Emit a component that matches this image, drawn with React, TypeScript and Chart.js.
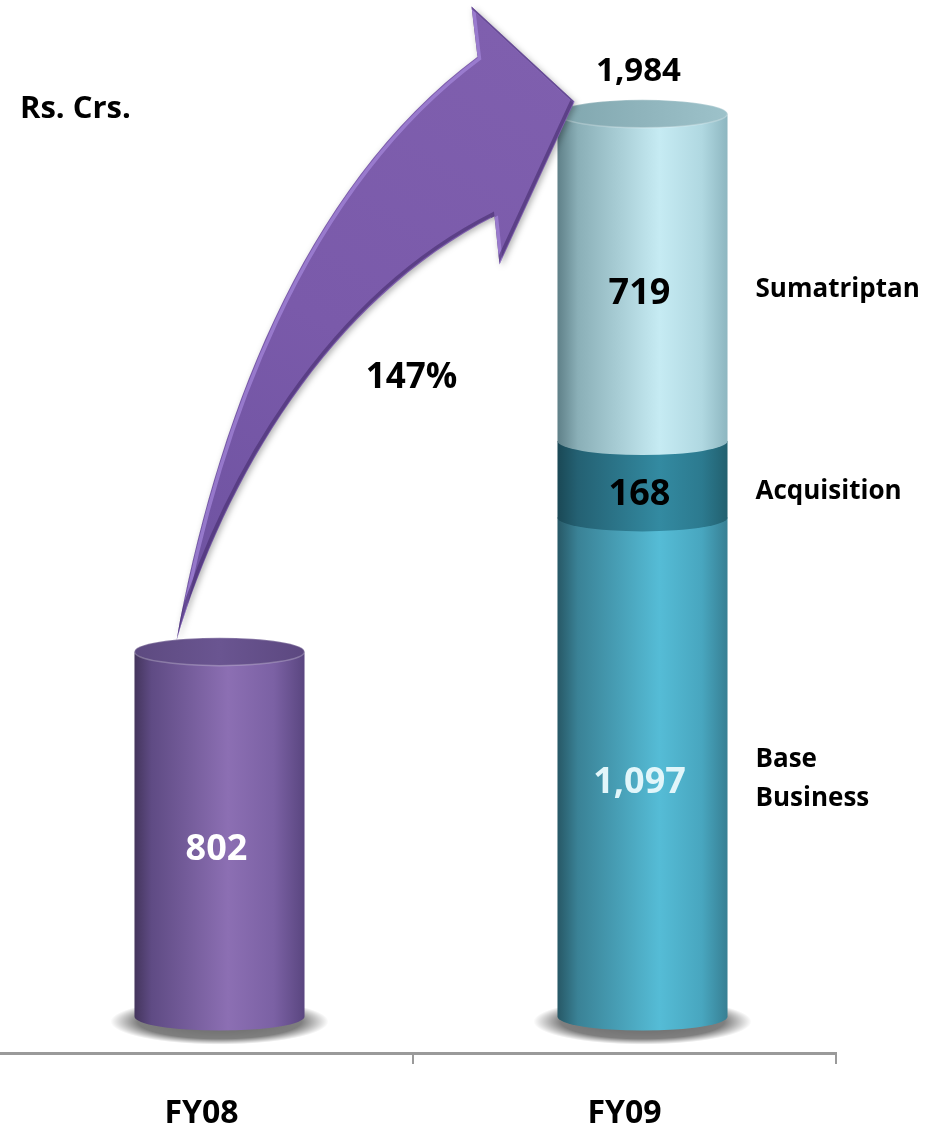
import React, { useEffect, useRef } from 'react';
import { Chart, registerables } from 'chart.js';

Chart.register(...registerables);

// ---------- data ----------
const categories = ['FY08', 'FY09'];
const fy08Sales = [802, null];
const baseBusiness = [null, 1097];
const acquisition = [null, 168];
const sumatriptan = [null, 719];
const seriesNames = ['FY08', 'Base Business', 'Acquisition', 'Sumatriptan'];
const unitLabel = 'Rs. Crs.';
const yMin = -80;
const yMax = 2188;

const FONT = "'Open Sans', 'DejaVu Sans', sans-serif";

type Stop = [number, string];
interface Look {
  side: Stop[];
  cap: Stop[];
  text: string;
}

const looks: Look[] = [
  {
    side: [[0, '#44355d'], [0.1, '#5f4b84'], [0.55, '#8c6fb3'], [0.82, '#7b61a4'], [1, '#5a4680']],
    cap: [[0, '#5d4a80'], [0.5, '#6a5591'], [1, '#5c4880']],
    text: '#ffffff',
  },
  {
    side: [[0, '#275866'], [0.12, '#3a8296'], [0.6, '#55bcd6'], [0.85, '#48a6bf'], [1, '#377f93']],
    cap: [[0, '#3d8ea3'], [1, '#4aa7be']],
    text: '#e2f6fa',
  },
  {
    side: [[0, '#1a4855'], [0.12, '#246173'], [0.6, '#338aa1'], [0.85, '#2c7a8f'], [1, '#22606f']],
    cap: [[0, '#246173'], [1, '#2e7f94']],
    text: '#000000',
  },
  {
    side: [[0, '#5f8088'], [0.12, '#8aafb7'], [0.6, '#c6ebf3'], [0.85, '#b0d8e1'], [1, '#8db6c0']],
    cap: [[0, '#80a6ae'], [0.5, '#8fb4bc'], [1, '#9dc2ca']],
    text: '#000000',
  },
];

const SHIFT_X = 18; // 3D perspective shift of the cylinders
const RY = 14;

function hGrad(ctx: CanvasRenderingContext2D, x0: number, x1: number, stops: Stop[]) {
  const g = ctx.createLinearGradient(x0, 0, x1, 0);
  stops.forEach(([o, c]) => g.addColorStop(o, c));
  return g;
}

function segmentPath(ctx: CanvasRenderingContext2D, cx: number, rx: number, yTop: number, yBot: number) {
  ctx.beginPath();
  ctx.moveTo(cx - rx, yTop);
  ctx.lineTo(cx - rx, yBot);
  ctx.ellipse(cx, yBot, rx, RY, 0, Math.PI, 0, true);
  ctx.lineTo(cx + rx, yTop);
  ctx.closePath();
}

function drawShadow(ctx: CanvasRenderingContext2D, cx: number, cy: number, rx: number) {
  ctx.save();
  ctx.translate(cx, cy + 5);
  ctx.scale(1, (RY + 9) / (rx + 24));
  const r = rx + 24;
  const g = ctx.createRadialGradient(0, 0, 0, 0, 0, r);
  g.addColorStop(0, 'rgba(0,0,0,0.6)');
  g.addColorStop(0.75, 'rgba(0,0,0,0.5)');
  g.addColorStop(1, 'rgba(0,0,0,0)');
  ctx.fillStyle = g;
  ctx.beginPath();
  ctx.arc(0, 0, r, 0, Math.PI * 2);
  ctx.fill();
  ctx.restore();
}

// arrow template in reference geometry: tail anchored to FY08 top, tip to FY09 top
const arrowTail = { x: 177, y: 640 };
const arrowTip = { x: 575, y: 103 };
const growthLabelAt = { x: 412, y: 378 };

const totalFY09 = (baseBusiness[1] as number) + (acquisition[1] as number) + (sumatriptan[1] as number);

const cylinderPlugin = {
  id: 'cylinders',
  afterDatasetsDraw(chart: any) {
    const ctx: CanvasRenderingContext2D = chart.ctx;
    const nCats = categories.length;
    const cols: { cx: number; rx: number; top: number; base: number }[] = [];
    for (let c = 0; c < nCats; c++) {
      const segs: { el: any; ds: number }[] = [];
      chart.data.datasets.forEach((ds: any, di: number) => {
        const v = ds.data[c];
        if (v === null || v === undefined) return;
        const el = chart.getDatasetMeta(di).data[c];
        segs.push({ el, ds: di });
      });
      if (!segs.length) continue;
      const cx = segs[0].el.x + SHIFT_X;
      const rx = segs[0].el.width / 2;
      const base = Math.max(...segs.map((s) => s.el.base));
      const top = Math.min(...segs.map((s) => s.el.y));
      cols.push({ cx, rx, top, base });
      drawShadow(ctx, cx, base, rx);
      segs.sort((a, b) => b.el.base - a.el.base);
      segs.forEach((s) => {
        const look = looks[s.ds];
        ctx.save();
        segmentPath(ctx, cx, rx, s.el.y, s.el.base);
        ctx.fillStyle = hGrad(ctx, cx - rx, cx + rx, look.side);
        ctx.fill();
        ctx.restore();
      });
      const topSeg = segs[segs.length - 1];
      const tl = looks[topSeg.ds];
      ctx.save();
      ctx.beginPath();
      ctx.ellipse(cx, top, rx, RY, 0, 0, Math.PI * 2);
      ctx.fillStyle = hGrad(ctx, cx - rx, cx + rx, tl.cap);
      ctx.fill();
      ctx.strokeStyle = 'rgba(255,255,255,0.25)';
      ctx.lineWidth = 1.5;
      ctx.stroke();
      ctx.restore();
    }

    // growth arrow
    if (cols.length === 2) {
      const tail = { x: cols[0].cx - 43, y: cols[0].top - 11 };
      const tip = { x: cols[1].cx - 68, y: cols[1].top - 12 };
      const sx = (tip.x - tail.x) / (arrowTip.x - arrowTail.x);
      const sy = (tip.y - tail.y) / (arrowTip.y - arrowTail.y);
      const P = (x: number, y: number): [number, number] => [tail.x + (x - arrowTail.x) * sx, tail.y + (y - arrowTail.y) * sy];
      const path = () => {
        ctx.beginPath();
        ctx.moveTo(...P(177, 640));
        ctx.bezierCurveTo(...P(215, 430), ...P(300, 190), ...P(478, 58));
        ctx.lineTo(...P(472, 8));
        ctx.lineTo(...P(575, 103));
        ctx.lineTo(...P(500, 265));
        ctx.lineTo(...P(495, 217));
        ctx.bezierCurveTo(...P(330, 300), ...P(225, 480), ...P(177, 640));
        ctx.closePath();
      };
      ctx.save();
      path();
      ctx.shadowColor = 'rgba(0,0,0,0.3)';
      ctx.shadowBlur = 6;
      ctx.shadowOffsetX = 2;
      ctx.shadowOffsetY = 2;
      const ag = ctx.createLinearGradient(...P(200, 640), ...P(520, 40));
      ag.addColorStop(0, '#6d52a0');
      ag.addColorStop(0.5, '#7a5aaa');
      ag.addColorStop(1, '#7f5fae');
      ctx.fillStyle = ag;
      ctx.fill();
      ctx.restore();
      ctx.save();
      path();
      ctx.clip();
      ctx.translate(2, 2);
      path();
      ctx.strokeStyle = 'rgba(165,135,220,0.7)';
      ctx.lineWidth = 3.5;
      ctx.stroke();
      ctx.translate(-4, -4);
      path();
      ctx.strokeStyle = 'rgba(70,45,110,0.6)';
      ctx.lineWidth = 3.5;
      ctx.stroke();
      ctx.restore();

      const growth = Math.round((totalFY09 / (fy08Sales[0] as number) - 1) * 100);
      const [gx, gy] = P(growthLabelAt.x, growthLabelAt.y);
      ctx.save();
      ctx.font = `bold 35px ${FONT}`;
      ctx.fillStyle = '#000';
      ctx.textAlign = 'center';
      ctx.textBaseline = 'middle';
      ctx.fillText(`${growth}%`, gx, gy);
      ctx.restore();
    }

    // value labels and series names
    ctx.save();
    ctx.textBaseline = 'middle';
    chart.data.datasets.forEach((ds: any, di: number) => {
      ds.data.forEach((v: number | null, c: number) => {
        if (v === null || v === undefined) return;
        const el = chart.getDatasetMeta(di).data[c];
        const cx = el.x + SHIFT_X;
        const rx = el.width / 2;
        const cy = (el.y + el.base) / 2 + 16;
        ctx.font = `bold 36px ${FONT}`;
        ctx.textAlign = 'center';
        ctx.fillStyle = looks[di].text;
        ctx.fillText(v.toLocaleString('en-US'), cx - 3, cy);
        if (c === 1) {
          ctx.font = `bold 26px ${FONT}`;
          ctx.textAlign = 'left';
          ctx.fillStyle = '#000';
          const lx = cx + rx + 30;
          const words = String(ds.label).split(' ');
          const lines: string[] = [];
          let cur = '';
          words.forEach((w) => {
            const t = cur ? cur + ' ' + w : w;
            if (ctx.measureText(t).width > chart.width - lx - 2 && cur) {
              lines.push(cur);
              cur = w;
            } else cur = t;
          });
          lines.push(cur);
          const lh = 39;
          const y0 = cy - 4 - ((lines.length - 1) * lh) / 2;
          lines.forEach((ln, i) => ctx.fillText(ln, lx - 2, y0 + i * lh));
        }
      });
    });
    if (cols.length === 2) {
      ctx.font = `bold 33px ${FONT}`;
      ctx.textAlign = 'center';
      ctx.fillStyle = '#000';
      ctx.fillText(totalFY09.toLocaleString('en-US'), cols[1].cx - 4, cols[1].top - 42);
    }
    ctx.font = `bold 31px ${FONT}`;
    ctx.textAlign = 'left';
    ctx.fillStyle = '#000';
    ctx.fillText(unitLabel, chart.chartArea.left + 30, 109);
    ctx.restore();
  },
};

export default function App() {
  const ref = useRef<HTMLCanvasElement | null>(null);
  useEffect(() => {
    document.body.style.margin = '0';
    if (!ref.current) return;
    const chart = new Chart(ref.current, {
      type: 'bar',
      data: {
        labels: categories,
        datasets: [
          { label: seriesNames[0], data: fy08Sales, backgroundColor: 'rgba(0,0,0,0)' },
          { label: seriesNames[1], data: baseBusiness, backgroundColor: 'rgba(0,0,0,0)' },
          { label: seriesNames[2], data: acquisition, backgroundColor: 'rgba(0,0,0,0)' },
          { label: seriesNames[3], data: sumatriptan, backgroundColor: 'rgba(0,0,0,0)' },
        ],
      },
      options: {
        responsive: false,
        animation: false,
        devicePixelRatio: 1,
        layout: { padding: { left: 0, right: 90, top: 21, bottom: 0 } },
        datasets: { bar: { barPercentage: 0.402, categoryPercentage: 1 } },
        plugins: { legend: { display: false }, tooltip: { enabled: false } },
        scales: {
          x: {
            stacked: true,
            offset: true,
            grid: { display: true, drawOnChartArea: false, drawTicks: true, tickLength: 11, color: '#9a9a9a', lineWidth: 2, offset: true },
            border: { display: true, color: '#9a9a9a', width: 3 },
            ticks: { color: '#000', font: { family: FONT, size: 32, weight: 'bold', lineHeight: 1 }, padding: 34 },
            afterFit: (axis: any) => {
              axis.height = 73;
            },
          },
          y: {
            stacked: true,
            display: false,
            min: yMin,
            max: yMax,
          },
        },
      } as any,
      plugins: [cylinderPlugin],
    });
    return () => chart.destroy();
  }, []);
  return (
    <div style={{ position: 'fixed', left: -10, top: 0, width: 936, height: 1126 }}>
      <canvas ref={ref} width={936} height={1126} style={{ width: 936, height: 1126 }} />
    </div>
  );
}
